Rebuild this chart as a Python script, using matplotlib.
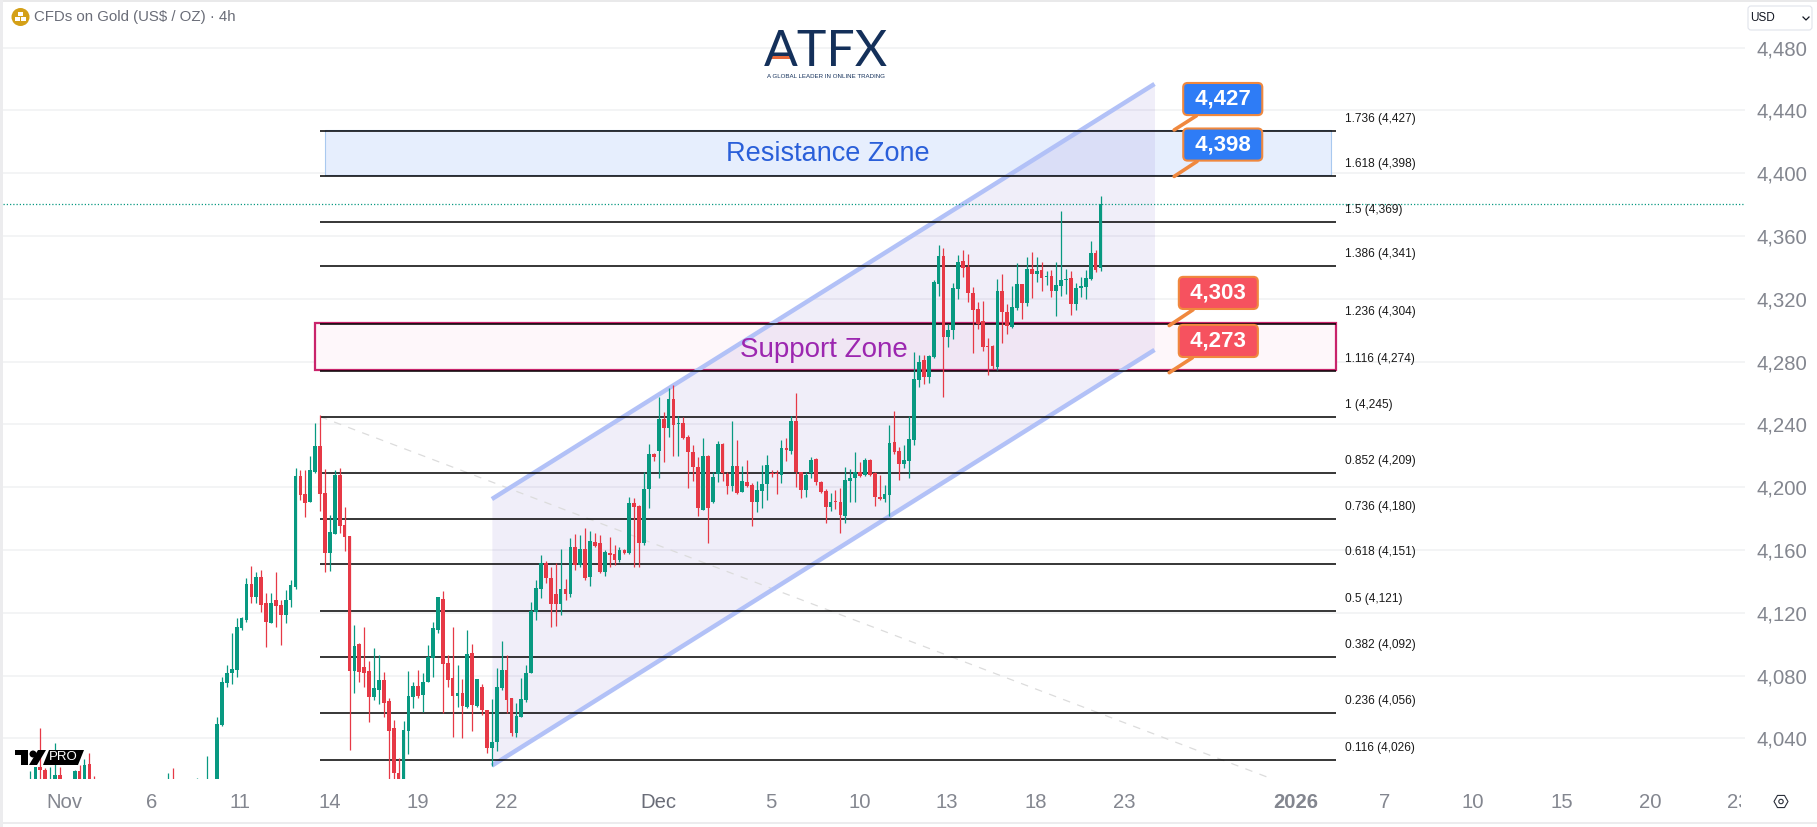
import matplotlib
matplotlib.use('Agg')
import matplotlib.pyplot as plt
import numpy as np
from matplotlib.patches import Rectangle, Polygon, Circle, RegularPolygon, FancyBboxPatch
from matplotlib.transforms import Bbox

plt.rcParams['font.family'] = ['Liberation Sans', 'DejaVu Sans']

# 4h candles (bars below the axis are rough guesses)
opens = [4012,4011,4022,4020,4010,4012,4017,4010,4005,4010,
    4019,4010,4024,4010,4005,4002,4000,3996,4000,3995,
    3998,3993,3996,4000,3997,4001,3999,4003,4000,4008,
    4000,3996,4001,3998,4000,4008,4000,4005,4005,4048.6,
    4075.1,4081.5,4083.6,4110.6,4115.5,4138.4,4130.4,4142.7,4126.1,4113.8,
    4128.2,4125,4118.7,4128.2,4136.7,4207.2,4195.7,4190.8,4210,4226.3,
    4196.2,4158.4,4170.3,4207.8,4176,4169,4083.2,4100,4085.8,4083.2,
    4066.7,4070.9,4077.3,4063.9,4046.5,4018.2,4012,4045,4066.7,4073.4,
    4067.7,4076.2,4091,4109,4128.6,4087.9,4078.3,4067,4069.2,4060.3,
    4094.2,4060.7,4073,4058.2,4033.7,4038,4072,4083.6,4065.6,4043.7,
    4053.9,4064.5,4081.9,4120.8,4135,4151.6,4142,4132.1,4125.7,4135,
    4132.1,4162.2,4150.6,4160.5,4143.1,4165.4,4164.4,4146.3,4158,4157.6,
    4153.8,4160,4158,4189.8,4188,4164.4,4198.8,4221.3,4222.8,4243.6,
    4237.6,4256.1,4240.4,4240.8,4231.9,4222.3,4213.2,4185.6,4220,4190.9,
    4208.5,4227.6,4208.5,4201.1,4213.6,4197.3,4203.2,4201.5,4190.9,4197.9,
    4202,4209,4209,4207.9,4224.9,4223.2,4242.3,4209.6,4198.3,4209,
    4217.9,4203.6,4197.7,4187.7,4191.3,4190.5,4182,4204.3,4205.8,4209.6,
    4207.9,4217.4,4209,4193.9,4192.6,4195.1,4229.1,4223.2,4214.9,4217,
    4230.2,4268.3,4281,4270.4,4283.2,4329.5,4347.3,4295.5,4300.2,4326.3,
    4344.1,4340.1,4323.5,4313.3,4305.9,4290,4290.2,4276.8,4325,4311.4,
    4302.3,4314,4329.4,4317.2,4339,4335.8,4338.4,4334.1,4334.6,4325,
    4328.2,4332.2,4333.1,4316.7,4326.7,4327.8,4332.4,4349,4339.4]
highs = [4019,4022,4047,4021,4022,4037,4022,4013,4012,4020,
    4023,4027,4031,4016,4012,4008,4006,4004,4008,4003,
    4006,4000,4005,4008,4005,4009,4006,4010,4018,4021,
    4008,4005,4010,4006,4015,4012,4029,4013,4054,4079.4,
    4086.8,4107,4116.5,4117.6,4142,4149.9,4146.3,4147.3,4132.5,4132.5,
    4146.3,4128.2,4134.6,4141,4212,4211,4211,4220,4240.7,4245.8,
    4211.4,4182.4,4211,4212,4187.7,4169,4112.3,4100.6,4110.8,4089.4,
    4097.4,4093.2,4082.6,4066,4051.8,4027.4,4051.4,4083,4076.2,4083.6,
    4082,4099.6,4114.4,4130.3,4134,4093.2,4110.8,4086.8,4077.7,4109.1,
    4100,4078,4075,4058.2,4064.9,4084.7,4102.1,4093.2,4065.6,4062.4,
    4078.3,4086.8,4127.2,4141,4157,4153.3,4149.5,4151.6,4160.5,4141.4,
    4167.5,4170.1,4169.7,4173.9,4172.4,4171.2,4169.7,4160,4168.6,4163.3,
    4162,4161,4193.7,4193,4188.8,4210,4227.6,4222.1,4257.8,4248.2,
    4263.5,4265.2,4245.5,4244.6,4233.4,4227,4219.6,4231.2,4220.6,4210,
    4229.8,4228.5,4210,4242.3,4230.2,4213.6,4217.4,4203,4204,4214.3,
    4220.6,4211,4211,4230.2,4231.2,4245.7,4259.9,4210,4210,4219.6,
    4218.5,4204.3,4198.8,4196.2,4198.3,4199.4,4213.2,4211.5,4222.3,4216.4,
    4218.9,4218,4210,4207.9,4201.5,4239.7,4248.6,4225.5,4227,4245.7,
    4286.4,4284.2,4284.2,4284.2,4332,4354.3,4352.2,4304,4329.9,4348,
    4351.1,4348.6,4327.8,4318.2,4318.6,4294.9,4290.6,4332.6,4335.6,4316.5,
    4328.2,4342.6,4329.4,4346.4,4350,4346.4,4343.3,4338,4338.4,4343.3,
    4376,4339,4337.7,4329.9,4333.7,4338.4,4356.8,4351.1,4385.5]
lows = [4008,4008,4010,4008,4006,4006,4006,4002,4000,4005,
    4005,4005,4005,4000,3998,3995,3992,3990,3992,3988,
    3990,3985,3990,3994,3990,3995,3992,3997,3995,3995,
    3992,3990,3995,3990,3990,3996,3990,3998,4000,4048,
    4072.6,4075,4079.4,4109.1,4114.4,4126.1,4126.1,4120.8,4098.1,4113.4,
    4111.2,4099.6,4113.4,4124,4135,4191.9,4180.9,4190.8,4209.3,4185.1,
    4146.3,4146.9,4170.3,4170.7,4159.6,4032.7,4069.2,4076.2,4073,4050.7,
    4064.5,4062,4053.5,4010,4010,4005,4008,4030,4059.2,4065.6,
    4056.7,4076,4079.4,4107,4056.5,4073,4040.8,4059.9,4040.1,4059.2,
    4045,4059.9,4055,4030.6,4022.7,4032.3,4070.9,4056,4041.6,4041.2,
    4053.9,4063.5,4081.9,4115.5,4129.3,4139.3,4110.9,4111.7,4118.7,4128.3,
    4130.4,4147.4,4149.5,4141,4137.4,4161.8,4145.7,4143.8,4149.5,4150.6,
    4152.7,4157.6,4157.6,4149.5,4149.1,4163.3,4186.7,4217,4205.8,4216.4,
    4232.3,4220.2,4220.2,4230.6,4199.4,4204.3,4182,4185.6,4164.8,4190.3,
    4203.2,4204.3,4195.6,4197.9,4195.8,4197.3,4200,4175.6,4184.5,4186.7,
    4192,4206.8,4195.6,4202.6,4217,4221.3,4200,4193,4194.1,4205.8,
    4201.5,4196.6,4177.1,4185.2,4186.2,4171.2,4177.1,4190.9,4190.9,4206.4,
    4207.3,4207.3,4188.1,4192,4190.9,4182,4221.3,4204.7,4212.1,4206.2,
    4227,4263.6,4265.8,4266.6,4282.1,4322,4257.7,4289.6,4294.4,4319.7,
    4334.1,4318.2,4285.7,4300.6,4287,4271.5,4275.1,4274.7,4292.1,4297.6,
    4301.7,4312.9,4307,4315.5,4320.3,4331,4325,4328.8,4321,4309.1,
    4321.8,4323.1,4309.7,4312.9,4321,4319.9,4332,4337.3,4338]
closes = [4013,4022,4020,4010,4012,4017,4010,4005,4008,4019,
    4010,4023,4010,4005,4002,4000,3996,4000,3995,3998,
    3993,3996,4000,3997,4001,3999,4003,4000,4008,4000,
    3996,4001,3998,4000,4008,4002,4010,4006,4049,4075.8,
    4081.5,4084,4110.8,4117,4138.4,4130.4,4142.7,4125,4114.4,4126.1,
    4124.4,4118.7,4128.2,4137.8,4207.2,4195.1,4190.2,4211,4226.3,4195.7,
    4158.4,4171.3,4207.8,4175.4,4168.6,4083.2,4098.9,4082.6,4082,4066.7,
    4072,4077.3,4062.8,4045,4017.8,4012,4045.4,4067,4073.4,4067,
    4076.2,4092.1,4110.2,4129.9,4087.5,4077.3,4067,4068.8,4060.7,4093.6,
    4061.3,4077.7,4058,4033.7,4038,4072.6,4083.6,4064.5,4043.3,4054.3,
    4064.9,4081.9,4121.4,4135.7,4151.6,4142,4125.7,4125.7,4135,4132.1,
    4162.2,4150.6,4160.5,4142,4165.9,4162.7,4146.3,4159,4157,4153.8,
    4160,4158,4189.8,4187.7,4164.4,4198.8,4221.3,4219.6,4243.6,4237.6,
    4256.1,4239.7,4241.2,4231.2,4222.3,4213.2,4186.7,4220,4186.7,4206.8,
    4227.6,4208.9,4201.1,4213.6,4196.6,4204,4200.9,4190.9,4198.3,4202.2,
    4214.3,4208.3,4208.5,4224.9,4223.8,4242.5,4210,4198.3,4207.9,4217.4,
    4203.2,4197.3,4187.7,4190.5,4190.9,4182.4,4204.7,4206.2,4209.6,4207.3,
    4217.4,4207.9,4193.5,4192.6,4195.8,4228,4222.3,4214.9,4217.4,4230.6,
    4268.8,4280,4270.4,4283.8,4331,4347.3,4295.5,4300.2,4327.1,4343.3,
    4339.9,4323.9,4312.9,4304,4289.6,4289.6,4277.2,4325,4311.8,4302.9,
    4314.6,4329.4,4317.6,4339,4335.8,4337.7,4333.1,4334.6,4325,4328.8,
    4332,4332.6,4316.7,4327.1,4328.2,4333.1,4349,4338.4,4380.4]

# Fibonacci levels
fib_ratios = ['1.736', '1.618', '1.5', '1.386', '1.236', '1.116', '1', '0.852',
              '0.736', '0.618', '0.5', '0.382', '0.236', '0.116']
fib_prices = [4427, 4398, 4369, 4341, 4304, 4274, 4245, 4209,
              4180, 4151, 4121, 4092, 4056, 4026]

# Axis ticks
price_ticks = [4040, 4080, 4120, 4160, 4200, 4240, 4280, 4320, 4360, 4400, 4440, 4480]
date_pos = [7, 24.75, 42.7, 61, 79, 96.9, 128, 150.9, 169, 186.7, 204.8, 222.8,
            257.8, 275.9, 293.9, 312, 330, 348]
date_labels = ['Nov', '6', '11', '14', '19', '22', 'Dec', '5', '10', '13', '18', '23',
               '2026', '7', '10', '15', '20', '23']

# Channel (bar, price)
channel_x = [94, 229]
channel_upper = [4192.5, 4456.9]
channel_lower = [4022.7, 4287.5]

# Callouts: label, box centre, tip, colour
callout_labels = ['4,427', '4,398', '4,303', '4,273']
callout_box_x = [242.9, 242.9, 242, 242]
callout_box_y = [4447.3, 4418.3, 4323.8, 4293.2]
callout_tip_x = [233, 233, 232, 232]
callout_tip_y = [4427.6, 4398, 4303, 4273]
callout_colors = ['#2e7cf6', '#2e7cf6', '#f6525f', '#f6525f']

last_price = 4380.3
green = '#089981'
red = '#e63946'

opens = np.array(opens)
highs = np.array(highs)
lows = np.array(lows)
closes = np.array(closes)
bars = np.arange(len(opens))
colors = np.where(closes >= opens, green, red)

fig = plt.figure(figsize=(18.17, 8.27), dpi=100)
ax = fig.add_axes([3/1817, 1-779/827, 1742/1817, 777/827])
ax.set_xlim(-5.6, 349.3)
ax.set_ylim(4014.2, 4509.1)

ax.set_yticks(price_ticks)
ax.set_yticklabels([f'{p:,}' for p in price_ticks], fontsize=14.6, color='#83868f', va='center_baseline')
ax.yaxis.tick_right()
ax.set_xticks(date_pos)
ax.set_xticklabels(date_labels, fontsize=14.6, color='#83868f')
ax.get_xticklabels()[12].set_fontweight('bold')
ax.get_xticklabels()[6].set_color('#6a6d78')
# last label is cut by the price scale
ax.get_xticklabels()[-1].set_clip_on(True)
ax.get_xticklabels()[-1].set_clip_box(Bbox([[0, 0], [1741, 827]]))
ax.tick_params(axis='y', length=0, pad=8)
ax.tick_params(axis='x', length=0, pad=10)
ax.grid(axis='y', color='#f1f2f4', linewidth=1.2)
ax.set_axisbelow(True)
for s in ax.spines.values():
    s.set_visible(False)

# zones
ax.add_patch(Rectangle((60, 4399), 205, 28.5, facecolor='#e6eefd', edgecolor='#a9c9ef', linewidth=0.8, zorder=1))
ax.add_patch(Rectangle((57.9, 4275), 208.1, 29.5, facecolor='#fef7fa', edgecolor='#c9246b', linewidth=1.6, zorder=1))

# channel
ax.fill_between(channel_x, channel_lower, channel_upper, color='#5c3ac0', alpha=0.085, linewidth=0, zorder=1.5)
ax.plot(channel_x, channel_upper, color='#b2c1f7', linewidth=3.2, solid_capstyle='butt', zorder=2)
ax.plot(channel_x, channel_lower, color='#b2c1f7', linewidth=3.2, solid_capstyle='butt', zorder=2)

# fib levels
ax.plot([59, 253], [4245, 4014.2], color='#dcdcdc', linewidth=0.9, linestyle=(0, (6, 6)), zorder=1.6)
ax.hlines(fib_prices, 59, 266, color='black', linewidth=1.1, zorder=2.5)
for r, p in zip(fib_ratios, fib_prices):
    ax.annotate(f'{r} ({p:,})', xy=(267.8, p), xytext=(0, 12*0.72), textcoords='offset points',
                fontsize=8.6, color='#1a1a1a', va='center', ha='left')

# last price
ax.axhline(last_price, color=green, linewidth=0.9, linestyle=(0, (1, 1.6)), zorder=2)

# candles
ax.vlines(bars, lows, highs, color=colors, linewidth=0.9, zorder=3)
ax.bar(bars, np.abs(closes-opens), bottom=np.minimum(opens, closes), width=0.76, color=colors, linewidth=0, zorder=3.1)

ax.text(162.5, 4412.5, 'Resistance Zone', fontsize=19.5, color='#2a5fd9', ha='center', va='center', zorder=4)
ax.text(161.7, 4287.3, 'Support Zone', fontsize=20, color='#9c27b0', ha='center', va='center', zorder=4)

# callouts
for t, bx, by, tx, ty, c in zip(callout_labels, callout_box_x, callout_box_y, callout_tip_x, callout_tip_y, callout_colors):
    ax.annotate(' ' + t + ' ', xy=(tx, ty), xytext=(bx, by), fontsize=16, fontweight='bold', color='white',
                ha='center', va='center', zorder=6,
                bbox=dict(boxstyle='round,pad=0.25,rounding_size=0.2', facecolor=c, edgecolor='#f0883e', linewidth=1.5),
                arrowprops=dict(arrowstyle='-', color='#f0883e', linewidth=2.6, shrinkA=0, shrinkB=0))

# overlay in screen pixels: logos, header and small icons
ov = fig.add_axes([0, 0, 1, 1], facecolor='none')
ov.set_xlim(0, 1817)
ov.set_ylim(827, 0)
ov.axis('off')

ov.add_patch(Rectangle((0, 0), 1817, 2, color='#e9e9ea', linewidth=0))
ov.add_patch(Rectangle((0, 0), 3, 827, color='#ececee', linewidth=0))
ov.add_patch(Rectangle((0, 822), 1817, 2, color='#ececee', linewidth=0))

# symbol header
ov.add_patch(Circle((20.5, 17), 9, color='#d4a017', linewidth=0))
ov.add_patch(Rectangle((18, 11.5), 5, 4, color='white', linewidth=0))
ov.add_patch(Rectangle((15, 16.5), 5, 4, color='white', linewidth=0))
ov.add_patch(Rectangle((21, 16.5), 5, 4, color='white', linewidth=0))
ov.text(34.5, 17.5, 'CFDs on Gold (US$ / OZ) · 4h', fontsize=10.8, color='#6a6d78', va='center', ha='left', parse_math=False)

# ATFX logo
ov.text(826, 52, 'ATFX', family='Lato', fontweight='normal', fontsize=36, color='#14305a', ha='center', va='center')
ov.add_patch(Rectangle((768.5, 56), 22.5, 3, color='#e8683a', linewidth=0))
ov.text(826, 76, 'A GLOBAL LEADER IN ONLINE TRADING', fontsize=4.4, color='#14305a', ha='center', va='center')

# TV PRO mark
ov.add_patch(Rectangle((15, 750), 13, 4.5, color='black', linewidth=0))
ov.add_patch(Rectangle((21, 750), 7, 15, color='black', linewidth=0))
ov.add_patch(Circle((33, 754), 3.5, color='black', linewidth=0))
ov.add_patch(Polygon([(38, 750), (46, 750), (37, 765), (29, 765)], color='black', linewidth=0))
ov.add_patch(Polygon([(49, 750), (84, 750), (78, 765), (43, 765)], color='black', linewidth=0))
ov.text(63.5, 757.5, 'PRO', fontsize=9.5, color='white', ha='center', va='center')

# currency box
ov.add_patch(FancyBboxPatch((1748, 6), 64, 24, boxstyle='round,pad=0,rounding_size=3', facecolor='white', edgecolor='#e0e3eb', linewidth=0.8))
ov.text(1750, 18, 'USD', fontsize=8.5, color='#131722', va='center', ha='left')
ov.plot([1803, 1806, 1809], [17, 20, 17], color='#131722', linewidth=0.9)

# settings icon
ov.add_patch(RegularPolygon((1781, 801.5), 6, radius=7, orientation=np.pi/2, fill=False, edgecolor='#2a2e39', linewidth=0.8))
ov.add_patch(Circle((1781, 801.5), 2.2, fill=False, edgecolor='#2a2e39', linewidth=0.8))

fig.savefig('out.png', dpi=100)
